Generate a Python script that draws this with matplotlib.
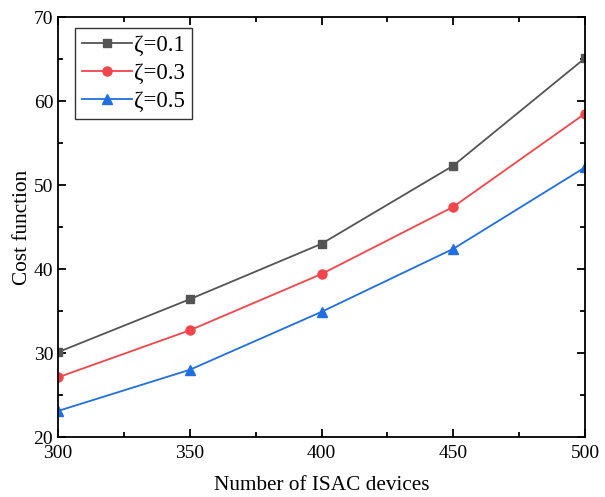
import matplotlib
matplotlib.use("Agg")
import matplotlib.pyplot as plt
from matplotlib.ticker import MultipleLocator

plt.rcParams['font.family'] = ['Liberation Serif', 'DejaVu Serif']
plt.rcParams['mathtext.fontset'] = 'stix'

devices = [300, 350, 400, 450, 500]
cost_01 = [30.1, 36.4, 43.0, 52.3, 65.1]
cost_03 = [27.1, 32.7, 39.4, 47.4, 58.5]
cost_05 = [23.1, 28.0, 34.9, 42.4, 52.1]
labels = ['ζ=0.1', 'ζ=0.3', 'ζ=0.5']

fig = plt.figure(figsize=(6.05, 4.97), dpi=100)
ax = fig.add_axes([58/605, 1-437/497, (585-58)/605, (437-17)/497])

ax.plot(devices, cost_01, color='#545454', marker='s', markersize=6, lw=1.3, label=labels[0])
ax.plot(devices, cost_03, color='#F0464B', marker='o', markersize=6.5, lw=1.3, label=labels[1])
ax.plot(devices, cost_05, color='#1F6FE0', marker='^', markersize=7.5, lw=1.3, label=labels[2])

ax.set_xlim(300, 500)
ax.set_ylim(20, 70)
ax.xaxis.set_major_locator(MultipleLocator(50))
ax.xaxis.set_minor_locator(MultipleLocator(25))
ax.yaxis.set_major_locator(MultipleLocator(10))
ax.yaxis.set_minor_locator(MultipleLocator(5))
ax.tick_params(which='both', direction='in', top=True, right=True, labelsize=14, width=1.3)
ax.tick_params(which='major', length=6)
ax.tick_params(which='minor', length=3.5)
ax.tick_params(axis='x', pad=6)
for s in ax.spines.values():
    s.set_linewidth(1.3)

ax.set_xlabel('Number of ISAC devices', fontsize=15.3, labelpad=10)
ax.set_ylabel('Cost function', fontsize=15.3, labelpad=1)

leg = ax.legend(loc='upper left', bbox_to_anchor=(0.032, 0.974), fontsize=16.5,
                frameon=True, fancybox=False, edgecolor='black',
                handlelength=2.2, borderpad=0.3, labelspacing=0.3,
                handletextpad=0.1, borderaxespad=0)
leg.get_frame().set_linewidth(1.0)

fig.savefig('out.png', dpi=100)
